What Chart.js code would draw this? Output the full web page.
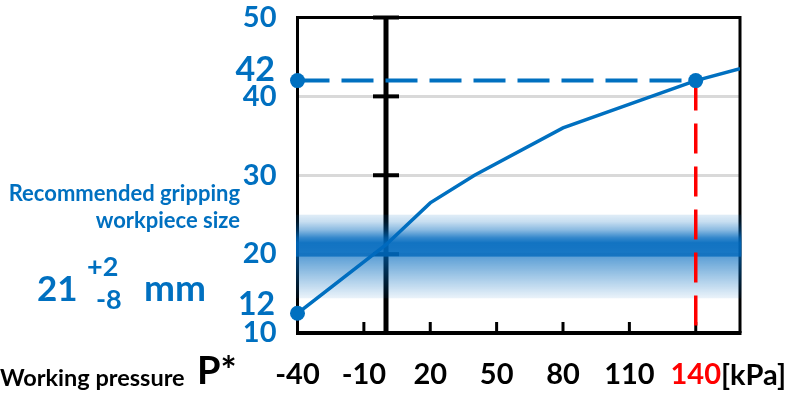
<!DOCTYPE html>
<html><head><meta charset="utf-8">
<script src="https://cdn.jsdelivr.net/npm/chart.js@4/dist/chart.umd.min.js"></script>
<style>html,body{margin:0;padding:0;background:#fff;}#c{display:block;}</style>
</head><body>
<canvas id="c" width="789" height="393"></canvas>
<script>
// ---- data ----
const pressure = [-40, 0, 20, 40, 80, 140, 160];          // kPa
const workpieceSize = [12.5, 21.2, 26.5, 30, 36, 42, 43.5]; // mm
const xTickValues = [-40, -10, 20, 50, 80, 110, 140];
const yTickValues = [10, 20, 30, 40, 50];
const gridValues = [20, 30, 40];
const markerLabels = [42, 12];
const axisPressure = 0;
const refPressure = 140;
const refSize = 42;
const startPressure = -40;
const startSize = 12.5;
const recommended = ['21', '+2', '-8'];
const bandRange = [25, 14.4];   // recommended band extent (mm)

const BLUE = '#0070C0', RED = '#FF0000', FONT = 'Lato';

const curve = pressure.map((p, i) => ({x: p, y: workpieceSize[i]}));

const decor = {
  id: 'decor',
  beforeDatasetsDraw(chart) {
    const {ctx, chartArea: a, scales: {x, y}} = chart;
    ctx.save();
    ctx.strokeStyle = '#000';
    ctx.lineCap = 'butt';
    ctx.lineWidth = 3;
    ctx.beginPath();
    ctx.moveTo(a.left, a.bottom); ctx.lineTo(a.left, a.top);
    ctx.lineTo(a.right, a.top); ctx.lineTo(a.right, a.bottom);
    ctx.stroke();
    ctx.lineWidth = 4;
    ctx.beginPath(); ctx.moveTo(a.left - 1.5, a.bottom); ctx.lineTo(a.right + 1.5, a.bottom); ctx.stroke();
    ctx.lineWidth = 3;
    xTickValues.forEach(v => {
      if (v === x.min) return;
      const px = x.getPixelForValue(v);
      ctx.beginPath(); ctx.moveTo(px, a.bottom); ctx.lineTo(px, a.bottom - 11); ctx.stroke();
    });
    const x0 = x.getPixelForValue(axisPressure);
    ctx.lineWidth = 5;
    ctx.beginPath(); ctx.moveTo(x0, a.top); ctx.lineTo(x0, a.bottom); ctx.stroke();
    ctx.lineWidth = 4;
    yTickValues.forEach(v => {
      if (v === y.min) return;
      const py = y.getPixelForValue(v);
      ctx.beginPath(); ctx.moveTo(x0 - 13, py); ctx.lineTo(x0 + 13, py); ctx.stroke();
    });
    ctx.restore();
  },
  afterDatasetDraw(chart, args) {
    if (args.index !== 0) return;
    const {ctx, chartArea: a, scales: {y}} = chart;
    const yt = y.getPixelForValue(bandRange[0]), yb = y.getPixelForValue(bandRange[1]);
    const g = ctx.createLinearGradient(0, yt, 0, yb);
    const stops = [[0, .12], [.084, .22], [.18, .45], [.277, .8], [.337, .93], [.494, .9], [.512, .62], [.663, .45], [.843, .25], [1, .08]];
    stops.forEach(([f, al]) => g.addColorStop(f, `rgba(0,105,190,${al})`));
    ctx.save();
    ctx.fillStyle = g;
    ctx.fillRect(a.left - 1.5, yt, a.right - a.left + 3, yb - yt);
    ctx.restore();
  },
  afterDraw(chart) {
    const {ctx, scales: {x, y}} = chart;
    ctx.save();
    ctx.textBaseline = 'alphabetic';
    // highlighted y labels
    ctx.fillStyle = BLUE;
    ctx.textAlign = 'right';
    markerLabels.forEach(v => {
      ctx.font = `bold ${v === refSize ? 34 : 32}px ${FONT}`;
      ctx.fillText(String(v), 275, y.getPixelForValue(v) + (v === refSize ? 0 : -2));
    });
    // recommended size annotation
    ctx.font = `bold 22px ${FONT}`;
    ctx.fillText('Recommended gripping', 240, 201);
    ctx.fillText('workpiece size', 240, 228);
    ctx.textAlign = 'left';
    ctx.font = `bold 35px ${FONT}`;
    ctx.fillText(recommended[0], 37, 301);
    ctx.font = `bold 27px ${FONT}`;
    ctx.fillText(recommended[1], 87, 276);
    ctx.fillText(recommended[2], 96, 309);
    ctx.font = `bold 37px ${FONT}`;
    ctx.fillText('mm', 144, 301);
    // axis title
    ctx.fillStyle = '#000';
    ctx.font = `bold 23.5px ${FONT}`;
    ctx.fillText('Working pressure', 0, 386);
    ctx.font = `bold 38px ${FONT}`;
    ctx.fillText('P*', 197, 384);
    // unit after 140
    ctx.font = `bold 29px ${FONT}`;
    const w = ctx.measureText(String(refPressure)).width;
    ctx.fillText('[kPa]', x.getPixelForValue(refPressure) + w / 2, 385);
    ctx.restore();
  }
};

new Chart(document.getElementById('c'), {
  type: 'line',
  data: {
    datasets: [
      {data: curve, borderColor: BLUE, borderWidth: 3.5, pointRadius: 0, tension: 0, order: 3},
      {data: [{x: refPressure, y: refSize}, {x: refPressure, y: 10}], borderColor: RED, borderWidth: 3.5,
       borderDash: [30, 13], pointRadius: 0, order: 2, clip: false},
      {data: [{x: startPressure, y: refSize}, {x: refPressure, y: refSize}], borderColor: BLUE, borderWidth: 4,
       borderDash: [32, 12], pointRadius: 7.5, pointBackgroundColor: BLUE, pointBorderWidth: 0, order: 1, clip: false},
      {data: [{x: startPressure, y: startSize}], showLine: false, pointRadius: 7.5, pointBackgroundColor: BLUE,
       pointBorderWidth: 0, order: 0, clip: false}
    ]
  },
  options: {
    responsive: false, animation: false, devicePixelRatio: 1,
    layout: {padding: {top: 17.5, right: 49, bottom: 0, left: 0}},
    plugins: {legend: {display: false}, tooltip: {enabled: false}},
    scales: {
      x: {
        type: 'linear', min: -40, max: 160,
        afterBuildTicks: s => { s.ticks = xTickValues.map(v => ({value: v})); },
        afterFit: s => { s.height = 60; s.paddingLeft = 0; s.paddingRight = 0; },
        grid: {display: false, drawTicks: false}, border: {display: false},
        ticks: {font: {family: FONT, size: 29, weight: 'bold'}, color: c => c.tick.value === refPressure ? RED : '#000',
                padding: 24, autoSkip: false, maxRotation: 0}
      },
      y: {
        type: 'linear', min: 10, max: 50,
        afterBuildTicks: s => { s.ticks = yTickValues.map(v => ({value: v})); },
        afterFit: s => { s.width = 297.5; s.paddingTop = 0; s.paddingBottom = 0; },
        grid: {color: c => gridValues.includes(c.tick && c.tick.value) ? '#D9D9D9' : 'rgba(0,0,0,0)', lineWidth: 3, drawTicks: false},
        border: {display: false},
        ticks: {font: {family: FONT, size: 29, weight: 'bold'}, color: BLUE, padding: 21, autoSkip: false}
      }
    }
  },
  plugins: [decor]
});
</script>
</body></html>
